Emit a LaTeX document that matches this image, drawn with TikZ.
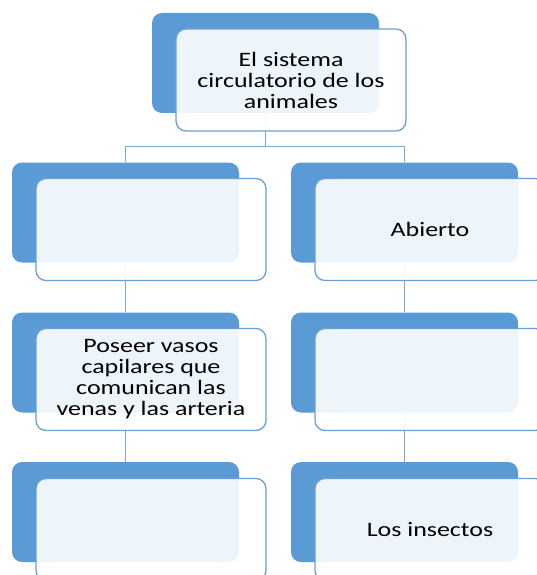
\documentclass[tikz,border=0pt]{standalone}
\usepackage{fontspec}
\usetikzlibrary{calc}
\setmainfont{Carlito}[FakeStretch=1.265]
\definecolor{r91g155b213}{rgb}{0.356863,0.607843,0.835294}
\definecolor{r106g159b212}{rgb}{0.415686,0.623529,0.831373}
\definecolor{r123g167b212}{rgb}{0.482353,0.654902,0.831373}
\tikzset{
  backbox/.style={draw=none, fill=r91g155b213, rounded corners=10pt,
    minimum width=227pt, minimum height=100pt, inner sep=0pt},
  frontbox/.style={draw=r106g159b212, line width=1.3pt, fill=white, fill opacity=0.9,
    text opacity=1, rounded corners=10pt, minimum width=230pt, minimum height=102pt,
    inner sep=0pt, align=center, text=black,
    font=\fontsize{20.5}{21}\selectfont},
  link/.style={draw=r123g167b212, line width=1.3pt}
}
\begin{document}
\begin{tikzpicture}[x=1pt,y=-1pt]
  \clip (0,0) rectangle (537,575);
  \useasboundingbox (0,0) rectangle (537,575);

  % Drawing back boxes
  \node[backbox] (topback) at (265.5,63) {};
  \node[backbox] (lback1) at (125.5,212.5) {};
  \node[backbox] (rback1) at (404.5,212.5) {};
  \node[backbox] (lback2) at (125.5,362.5) {};
  \node[backbox] (rback2) at (404.5,362.5) {};
  \node[backbox] (lback3) at (125.5,512) {};
  \node[backbox] (rback3) at (404.5,512) {};

  % Drawing lines from top box
  \coordinate (split) at ($(topback.south)+(0,33)$);
  \draw[link] (topback.south) -- (split);
  \draw[link] (lback1.north) |- (split) -| (rback1.north);

  % Drawing lines down each column
  \draw[link] (lback1.south) -- (lback2.north);
  \draw[link] (lback2.south) -- (lback3.north);
  \draw[link] (rback1.south) -- (rback2.north);
  \draw[link] (rback2.south) -- (rback3.north);

  % Drawing front boxes
  \node[frontbox] (top) at (291,80) {El sistema\\circulatorio de los\\animales};
  \node[frontbox] (left1) at (151,229.5) {};
  \node[frontbox] (right1) at (430,229.5) {Abierto};
  \node[frontbox] (left2) at (151,379.5) {Poseer vasos\\capilares que\\comunican las\\venas y las arteria};
  \node[frontbox] (right2) at (430,379.5) {};
  \node[frontbox] (left3) at (151,529.5) {};
  \node[frontbox] (right3) at (430,529.5) {Los insectos};
\end{tikzpicture}
\end{document}
